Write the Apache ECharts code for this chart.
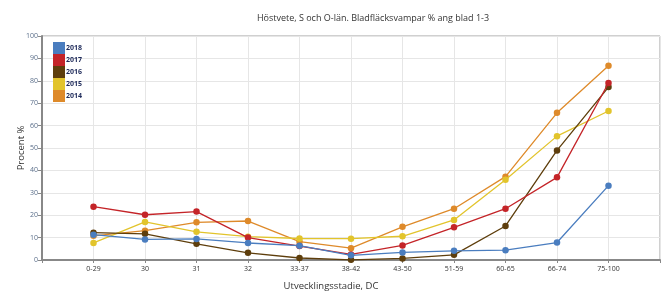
<!DOCTYPE html>
<html>
<head>
<meta charset="utf-8">
<script src="https://cdn.jsdelivr.net/npm/echarts@6/dist/echarts.min.js"></script>
<style>
html, body { margin: 0; padding: 0; background: #fff; }
#chart { width: 663px; height: 296px; }
</style>
</head>
<body>
<div id="chart"></div>
<script>
var categories = ['0-29', '30', '31', '32', '33-37', '38-42', '43-50', '51-59', '60-65', '66-74', '75-100'];
var years = ['2018', '2017', '2016', '2015', '2014'];
var v2018 = [11.3, 9.2, 9.4, 7.6, 6.4, 2.1, 3.4, 4.1, 4.4, 7.8, 33.2];
var v2017 = [23.8, 20.2, 21.6, 10.0, 6.2, 2.5, 6.5, 14.6, 22.9, 36.9, 79.0];
var v2016 = [12.2, 11.7, 7.2, 3.2, 0.9, 0.1, 0.7, 2.3, 15.2, 48.9, 77.2];
var v2015 = [7.6, 17.0, 12.6, 10.4, 9.6, 9.5, 10.6, 17.9, 35.8, 55.3, 66.5];
var v2014 = [10.8, 13.1, 16.8, 17.4, 8.2, 5.3, 14.8, 22.9, 37.2, 65.7, 86.7];
var colors = ['#4a7dbf', '#c42428', '#5e3e0c', '#e2c42c', '#de8a2a'];
var yTicks = [0, 10, 20, 30, 40, 50, 60, 70, 80, 90, 100];

var allValues = [v2018, v2017, v2016, v2015, v2014];

// x positions 1..11 inside a 0..12 value axis, so there is half a step of room at the ends
function toPoints(arr) {
    return arr.map(function (v, i) { return [i + 1, v]; });
}

var dom = document.getElementById('chart');
var myChart = echarts.init(dom, null, { renderer: 'canvas' });

var series = years.map(function (y, k) {
    return {
        name: y,
        type: 'line',
        data: toPoints(allValues[k]),
        symbol: 'circle',
        symbolSize: 6.5,
        showAllSymbol: true,
        lineStyle: { width: 1.3, color: colors[k] },
        itemStyle: { color: colors[k] },
        emphasis: { disabled: true },
        z: 10 - k
    };
});

option = {
    animation: false,
    textStyle: { fontFamily: 'Open Sans' },
    title: {
        text: 'Höstvete, S och O-län. Bladfläcksvampar % ang blad 1-3',
        left: 368,
        textAlign: 'center',
        top: 9,
        textStyle: { fontSize: 9, fontWeight: 'normal', color: '#333', fontFamily: 'Open Sans' }
    },
    legend: {
        data: years,
        orient: 'vertical',
        left: 53,
        top: 42,
        itemWidth: 12,
        itemHeight: 12,
        itemGap: 0,
        icon: 'rect',
        padding: 0,
        textStyle: { fontSize: 7, fontWeight: 'bold', color: '#1e2a5a', padding: [0, 0, 0, -4] }
    },
    grid: {
        left: 42,
        right: 2,
        top: 36,
        bottom: 33,
        show: true,
        borderColor: '#a0a0a0',
        borderWidth: 1
    },
    xAxis: {
        type: 'value',
        min: 0,
        max: 12,
        interval: 1,
        name: 'Utvecklingsstadie, DC',
        nameLocation: 'middle',
        nameGap: 21,
        nameMoveOverlap: false,
        nameTextStyle: { fontSize: 9.5, color: '#333', padding: [0, 40, 0, 0] },
        axisLine: { lineStyle: { color: '#888', width: 2 } },
        axisTick: { show: true, length: 3, lineStyle: { color: '#888' } },
        axisLabel: {
            fontSize: 7,
            color: '#333',
            margin: 5,
            formatter: function (v) { return categories[v - 1] || ''; }
        },
        splitLine: { show: true, lineStyle: { color: '#e6e6e6' } }
    },
    yAxis: {
        type: 'value',
        min: 0,
        max: 100,
        interval: 10,
        name: 'Procent %',
        nameLocation: 'middle',
        nameGap: 16,
        nameMoveOverlap: false,
        nameTextStyle: { fontSize: 9.5, color: '#333' },
        axisLine: { show: true, lineStyle: { color: '#888', width: 2 } },
        axisTick: { show: true, length: 4, lineStyle: { color: '#888' } },
        axisLabel: {
            fontSize: 7,
            color: '#5a6e8a',
            margin: 4,
            formatter: function (v) { return yTicks.indexOf(v) >= 0 ? String(v) : ''; }
        },
        splitLine: { show: true, lineStyle: { color: '#e6e6e6' } }
    },
    series: series
};

if (option && typeof option === 'object') {
    myChart.setOption(option, true);
}
</script>
</body>
</html>
